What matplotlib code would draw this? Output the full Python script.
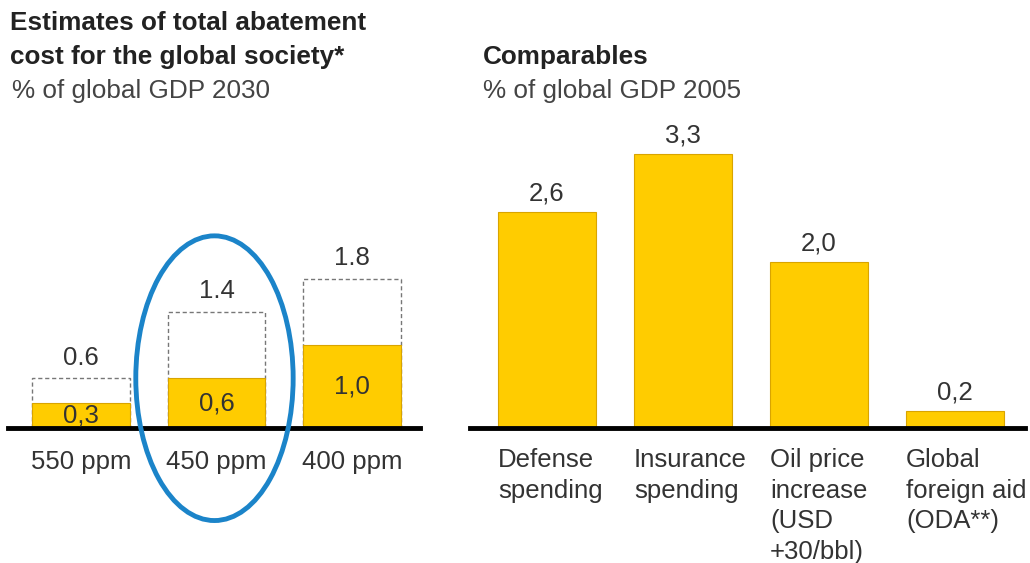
import matplotlib
matplotlib.use("Agg")
import matplotlib.pyplot as plt
from matplotlib.patches import Ellipse

# abatement cost scenarios, % of global GDP 2030
scenarios = ["550 ppm", "450 ppm", "400 ppm"]
cost_low = [0.3, 0.6, 1.0]
cost_high = [0.6, 1.4, 1.8]
low_labels = ["0,3", "0,6", "1,0"]
high_labels = ["0.6", "1.4", "1.8"]

# comparables, % of global GDP 2005
comparables = ["Defense\nspending", "Insurance\nspending",
               "Oil price\nincrease\n(USD\n+30/bbl)", "Global\nforeign aid\n(ODA**)"]
comp_values = [2.6, 3.3, 2.0, 0.2]
comp_labels = ["2,6", "3,3", "2,0", "0,2"]

YELLOW = "#FFCC00"
EDGE = "#D9A400"
TXT = "#333333"
FS = 18.5

plt.rcParams["font.family"] = ["Liberation Sans", "DejaVu Sans"]

W, H = 1030, 563
fig = plt.figure(figsize=(W / 100, H / 100), dpi=100)

base_px = 428          # baseline, pixels from top
px_per_unit = 83.0
ax_h_px = 300
ymax = ax_h_px / px_per_unit


def make_axes(left_px, right_px):
    ax = fig.add_axes([left_px / W, (H - base_px) / H,
                       (right_px - left_px) / W, ax_h_px / H])
    ax.set_ylim(0, ymax)
    ax.axis("off")
    return ax


# left panel
axl = make_axes(8, 420)
xl = range(len(scenarios))
axl.set_xlim(-0.537, 2.5)
axl.bar(xl, cost_high, width=0.72, facecolor="none", edgecolor="#777777",
        linestyle=(0, (3, 2)), linewidth=1.0)
axl.bar(xl, cost_low, width=0.72, color=YELLOW, edgecolor=EDGE, linewidth=0.8)
for i in xl:
    axl.text(i, cost_high[i] + 0.1, high_labels[i], ha="center", va="bottom",
             fontsize=FS, color=TXT)
    axl.text(i, cost_low[i] / 2, low_labels[i], ha="center", va="center",
             fontsize=FS, color=TXT)
    axl.text(i, -0.26, scenarios[i], ha="center", va="top",
             fontsize=FS, color=TXT, clip_on=False)
axl.axhline(0, color="black", linewidth=3.5, clip_on=False)
axl.add_patch(Ellipse((0.985, 0.6), 1.16, 3.43, fill=False, edgecolor="#1B84C9",
                      linewidth=3.5, clip_on=False, zorder=5))

# right panel
axr = make_axes(470, 1025)
xr = range(len(comparables))
axr.set_xlim(-0.566, 3.515)
axr.bar(xr, comp_values, width=0.72, color=YELLOW, edgecolor=EDGE, linewidth=0.8)
for i in xr:
    axr.text(i, comp_values[i] + 0.08, comp_labels[i], ha="center", va="bottom",
             fontsize=FS, color=TXT)
    axr.text(i - 0.36, -0.245, comparables[i], ha="left", va="top",
             fontsize=FS, color=TXT, linespacing=1.34, clip_on=False)
axr.axhline(0, color="black", linewidth=3.5, clip_on=False)

# panel headings
fig.text(10 / W, 1 - 23 / H, "Estimates of total abatement", fontsize=18.8,
         fontweight="bold", color="#222222", va="center")
fig.text(10 / W, 1 - 57 / H, "cost for the global society*", fontsize=18.8,
         fontweight="bold", color="#222222", va="center")
fig.text(12 / W, 1 - 91 / H, "% of global GDP 2030", fontsize=18.8,
         color="#444444", va="center")
fig.text(483 / W, 1 - 57 / H, "Comparables", fontsize=18.8,
         fontweight="bold", color="#222222", va="center")
fig.text(483 / W, 1 - 91 / H, "% of global GDP 2005", fontsize=18.8,
         color="#444444", va="center")

fig.savefig("out.png", dpi=100, facecolor="white")
